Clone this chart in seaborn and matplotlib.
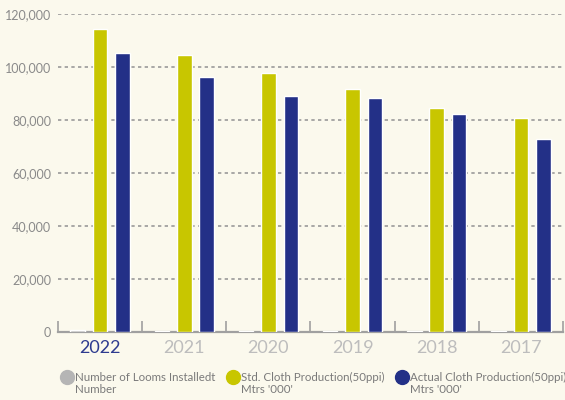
import matplotlib
matplotlib.use("Agg")
import matplotlib.pyplot as plt
from matplotlib.lines import Line2D
from matplotlib.ticker import FuncFormatter, FixedLocator
import seaborn as sns
import pandas as pd

years = ["2022", "2021", "2020", "2019", "2018", "2017"]
looms_installed = [650, 380, 350, 330, 320, 300]
std_cloth = [114300, 104500, 97700, 91700, 84500, 80800]
actual_cloth = [105300, 96200, 89000, 88300, 82300, 72800]
y_ticks = [0, 20000, 40000, 60000, 80000, 100000, 120000]

series_names = ["Number of Looms Installedt", "Std. Cloth Production(50ppi)",
                "Actual Cloth Production(50ppi)"]
series_units = ["Number", "Mtrs '000'", "Mtrs '000'"]
colors = ["#b5b5b5", "#c8c600", "#233087"]
bg = "#fbf9ed"

rows = []
for name, vals in zip(series_names, [looms_installed, std_cloth, actual_cloth]):
    for y, v in zip(years, vals):
        rows.append({"year": y, "series": name, "value": v})
df = pd.DataFrame(rows)

sns.set_style("white")
plt.rcParams["font.family"] = ["Lato", "DejaVu Sans"]

fig = plt.figure(figsize=(5.65, 4.0), dpi=100, facecolor=bg)
ax = fig.add_axes([58 / 565, 68 / 400, 505 / 565, 318 / 400])
ax.set_facecolor(bg)

sns.barplot(data=df, x="year", y="value", hue="series", order=years,
            hue_order=series_names, palette=colors, width=0.8, gap=0.35,
            saturation=1, ax=ax, legend=False, zorder=3)

ax.set_xlim(-0.5, len(years) - 0.5)
ax.set_ylim(0, 120000)
ax.set_xlabel("")
ax.set_ylabel("")

ax.yaxis.set_major_locator(FixedLocator(y_ticks))
ax.yaxis.set_major_formatter(FuncFormatter(lambda v, p: f"{int(v):,}"))
ax.tick_params(axis="y", length=0, pad=5, labelsize=9, labelcolor="#8a8a8a")
for v in y_ticks[1:]:
    ax.axhline(v, color="#9a9a9a", lw=1.2, ls=(0, (2, 2)), zorder=0)

# group separators as inward ticks on the baseline
ax.xaxis.set_minor_locator(FixedLocator([i - 0.5 for i in range(len(years) + 1)]))
ax.tick_params(axis="x", which="minor", direction="in", length=8, width=1.2,
               color="#a0a0a0", bottom=True)
ax.tick_params(axis="x", which="major", length=0, pad=6, labelsize=13)
for lbl in ax.get_xticklabels():
    if lbl.get_text() == years[0]:
        lbl.set_color("#2e3b8f")
    else:
        lbl.set_color("#bdbdbd")

for s in ["top", "right", "left"]:
    ax.spines[s].set_visible(False)
ax.spines["bottom"].set_color("#a0a0a0")
ax.spines["bottom"].set_linewidth(1.6)
ax.spines["bottom"].set_zorder(1)

handles = [Line2D([], [], marker="o", ls="", markersize=10, markerfacecolor=c,
                  markeredgecolor=c) for c in colors]
leg = fig.legend(handles, series_names, loc="lower left", ncol=3,
                 bbox_to_anchor=(50 / 565, 7 / 400), frameon=False,
                 handletextpad=0.1, columnspacing=0.9, handlelength=1.2,
                 prop={"size": 8.3})
for t in leg.get_texts():
    t.set_color("#7a7a7a")

fig.canvas.draw()
inv = fig.transFigure.inverted()
for t, unit in zip(leg.get_texts(), series_units):
    bb = t.get_window_extent()
    x0, y0 = inv.transform((bb.x0, bb.y0))
    fig.text(x0, y0 - 1 / 400, unit, ha="left", va="top", fontsize=8.3,
             color="#7a7a7a")

fig.savefig("out.png", dpi=100, facecolor=bg)
